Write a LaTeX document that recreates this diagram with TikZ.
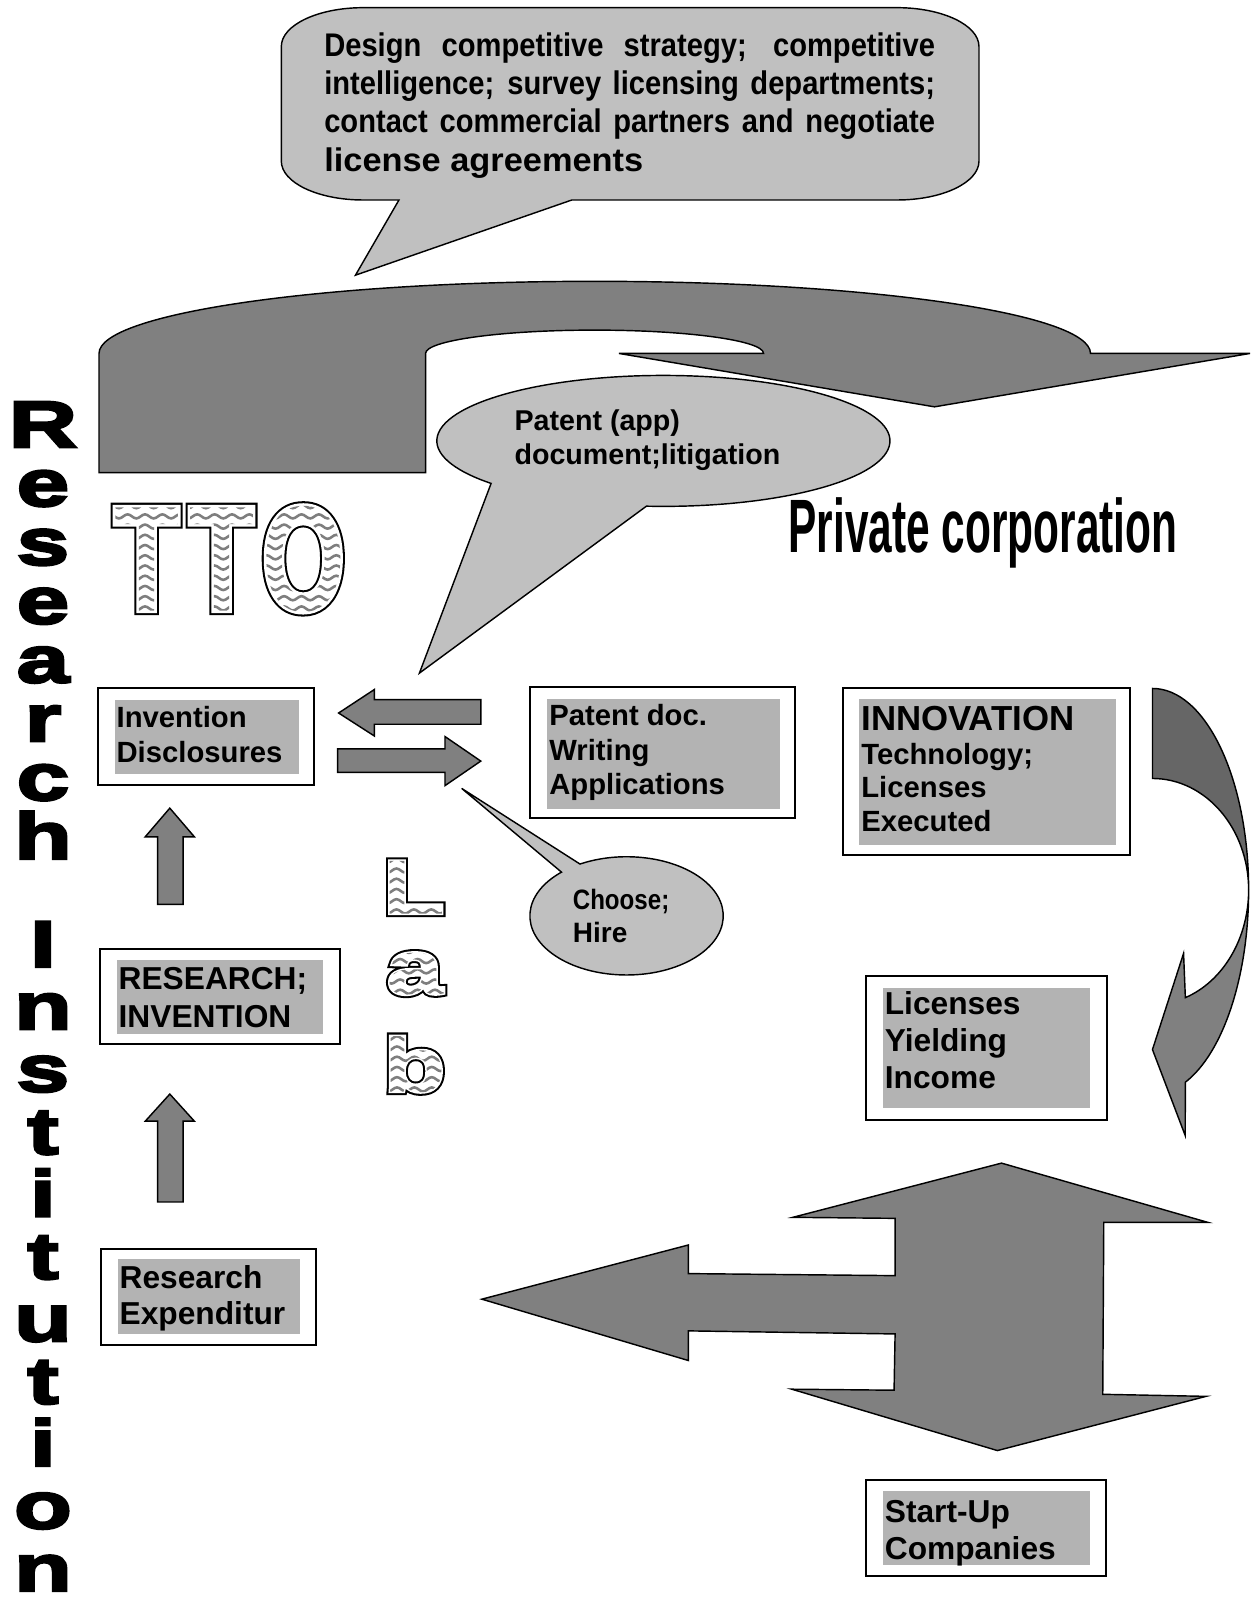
\documentclass[tikz,border=0pt]{standalone}
\usepackage{fontspec}
\setmainfont{Liberation Sans}
\newfontfamily\condfont[FakeStretch=0.89]{Liberation Sans}
\newfontfamily\widefont[FakeStretch=1.05]{Liberation Sans}
\newfontfamily\choosefont[FakeStretch=0.86]{Liberation Sans}
\newfontfamily\privfont[FakeStretch=0.56]{Liberation Sans}
\newfontfamily\ttofont[FakeStretch=0.71]{Liberation Sans}
\newfontfamily\labfont[FakeStretch=1.33]{Liberation Sans}
\newfontfamily\vertfont[FakeStretch=1.45,FakeBold=4]{Liberation Sans}
\usetikzlibrary{fit}
\definecolor{callgray}{HTML}{C0C0C0}
\definecolor{boxgray}{HTML}{B3B3B3}
\definecolor{arrgray}{HTML}{808080}
\definecolor{backgray}{HTML}{666666}
\definecolor{wavecolor}{HTML}{7E7E7E}
\newcommand\fl{\rule{0pt}{13pt}}
% wavy lines (used inside the letters): #1 periods, #2 height in pt
\newcommand\wavefill[2]{\tikz[x=1pt,y=1pt,baseline=0pt]{%
  \useasboundingbox (0,0) rectangle (1,1);
  \foreach \yy in {-4,1,...,#2}
    \draw[wavecolor,line width=1.25pt] (-4,\yy)
      \foreach \k in {0,...,#1} {sin ++(2.125,1) cos ++(2.125,-1) sin ++(2.125,-1) cos ++(2.125,1)};}}
% outlined, emboldened letters filled with wavy lines
% #1 white stroke, #2 black stroke (bp), #3 text, #4 periods, #5 height (pt)
\newcommand\wavetext[5]{%
  \rlap{\color{black}\special{pdf:literal direct 2 Tr #2 w 0 G}#3}%
  \rlap{\color{white}\special{pdf:literal direct 2 Tr #1 w 1 G}#3}%
  \special{pdf:literal direct 0 Tr q 7 Tr}%
  \rlap{#3}%
  \special{pdf:literal direct 0 Tr}%
  \rlap{\wavefill{#4}{#5}}%
  \special{pdf:literal direct Q}%
  \phantom{#3}}
\begin{document}
\begin{tikzpicture}[x=0.5pt,y=0.5pt,
  outerbox/.style={draw=black,line width=1pt,fill=white,inner sep=0pt,outer sep=0pt},
  innerbox/.style={fill=boxgray,draw=none,inner sep=0pt,outer sep=0pt},
  blockarrow/.style={draw=black,line width=0.7pt,fill=arrgray,line join=miter},
  callout/.style={draw=black,line width=0.7pt,fill=callgray},
  txt/.style={inner sep=0pt,outer sep=0pt,anchor=north west,align=left,font=\bfseries\fontsize{14.3pt}{17pt}\selectfont},
  txtbig/.style={txt,font=\bfseries\fontsize{15.5pt}{18pt}\selectfont},
  bigletter/.style={inner sep=0pt,outer sep=0pt,anchor=base west},
  labletter/.style={bigletter,font=\labfont\bfseries\fontsize{37.4pt}{38pt}\selectfont},
  vertword/.style={inner sep=0pt,outer sep=0pt,anchor=north,align=center}]
\useasboundingbox (0,0) rectangle (1227,-1568);

% ---------- big U-turn arrow ----------
\draw[blockarrow] (96.8,-462) -- (96.8,-345.5)
  arc[start angle=180,end angle=0,x radius=484.6,y radius=70.5]
  -- (1222,-345.5) -- (913.5,-397.7) -- (605,-345.5) -- (746.4,-345.5)
  arc[start angle=0,end angle=180,x radius=165.2,y radius=22.8]
  -- (416,-462) -- cycle;

% ---------- top callout ----------
\draw[callout] (559,-195.5) -- (877,-195.5)
  arc[start angle=270,end angle=360,x radius=80,y radius=38] -- (957,-45.5)
  arc[start angle=0,end angle=90,x radius=80,y radius=38] -- (355,-7.5)
  arc[start angle=90,end angle=180,x radius=80,y radius=38] -- (275,-157.5)
  arc[start angle=180,end angle=270,x radius=80,y radius=38] -- (390,-195.5)
  -- (347.5,-269) -- cycle;
\node[txt,font=\bfseries\fontsize{16pt}{18.7pt}\selectfont] (calltext) at (317,-29)
  {\fl\makebox[298.5pt][s]{\condfont Design competitive strategy; competitive}\\
   \makebox[298.5pt][s]{\condfont intelligence; survey licensing departments;}\\
   \makebox[298.5pt][s]{\condfont contact commercial partners and negotiate}\\
   {\widefont license agreements}};

% ---------- patent callout ----------
\draw[callout] ([shift={(-94.3:221.5 and 64)}]648.5,-431)
  arc[start angle=-94.3,end angle=220.5,x radius=221.5,y radius=64]
  -- (410,-658) -- cycle;
\node[txt,font=\bfseries\fontsize{14pt}{16.7pt}\selectfont] (patapp) at (503,-394.5)
  {\fl Patent (app)\\document;litigation};

% ---------- Private corporation ----------
\node[bigletter,font=\privfont\bfseries\fontsize{37pt}{40pt}\selectfont] (priv) at (771,-540) {Private corporation};

% ---------- TTO ----------
\node[bigletter,font=\ttofont\bfseries\fontsize{73.3pt}{74pt}\selectfont] (tto) at (111.5,-596.8)
  {\wavetext{2.5}{4.5}{T\kern4.85pt T\kern3.85pt O}{14}{56}};

% ---------- Lab ----------
\node[labletter] (labL) at (374.3,-893) {\wavetext{1.5}{3.5}{L}{4}{31}};
\node[labletter] (laba) at (377.9,-971.5) {\wavetext{1.5}{3.5}{a}{4}{26}};
\node[labletter] (labb) at (374.8,-1067) {\wavetext{1.5}{3.5}{b}{4}{31}};

% ---------- Research Institution ----------
\node[vertword,font=\vertfont\bfseries\fontsize{32pt}{28.75pt}\selectfont] (resword) at (42,-385)
  {\rule{0pt}{26pt}R\\e\\s\\e\\a\\r\\c\\h};
\node[vertword,font=\vertfont\bfseries\fontsize{32pt}{30.5pt}\selectfont] (instword) at (42,-893)
  {\rule{0pt}{26pt}I\\n\\s\\t\\i\\t\\u\\t\\i\\o\\n};

% ---------- boxes ----------
\node[outerbox,fit={(96,-673)(307,-767)}] (invout) {};
\node[innerbox,fit={(112,-684)(292,-757)}] (invin) {};
\node[txt] (invtext) at (114,-685) {\fl Invention\\Disclosures};

\node[outerbox,fit={(518,-671.5)(777,-800)}] (patout) {};
\node[innerbox,fit={(535,-683)(762,-791)}] (patin) {};
\node[txt] (pattext) at (537,-683) {\fl Patent doc.\\Writing\\Applications};

\node[outerbox,fit={(824,-673)(1105,-836)}] (innout) {};
\node[innerbox,fit={(840,-683.5)(1091,-826)}] (innin) {};
\node[txt,font=\bfseries\fontsize{17pt}{18pt}\selectfont] (inntitle) at (842,-688) {\fl INNOVATION};
\node[txt,font=\bfseries\fontsize{14.3pt}{16.5pt}\selectfont] (inntext) at (842,-721) {\fl Technology;\\Licenses\\Executed};

\node[outerbox,fit={(98,-928)(332,-1021)}] (resout) {};
\node[innerbox,fit={(114,-938.5)(316,-1011)}] (resin) {};
\node[txtbig,font=\bfseries\fontsize{15.5pt}{18.5pt}\selectfont] (restext) at (116,-941) {\fl RESEARCH;\\INVENTION};

\node[outerbox,fit={(99,-1221)(309,-1315)}] (expout) {};
\node[innerbox,fit={(115,-1231)(293,-1304)}] (expin) {};
\node[txtbig,font=\bfseries\fontsize{15.5pt}{17.5pt}\selectfont] (exptext) at (117,-1234) {\fl Research\\Expenditur};

\node[outerbox,fit={(847,-954)(1082,-1095)}] (licout) {};
\node[innerbox,fit={(863,-965.5)(1066,-1083.5)}] (licin) {};
\node[txtbig] (lictext) at (865,-966) {\fl Licenses\\Yielding\\Income};

\node[outerbox,fit={(847,-1447)(1081,-1541)}] (supout) {};
\node[innerbox,fit={(863,-1458)(1066,-1530)}] (supin) {};
\node[txtbig] (suptext) at (865,-1462) {\fl Start-Up\\Companies};

% ---------- small arrows ----------
\draw[blockarrow] (331,-697) -- (366,-674) -- (366,-684) -- (470,-684) -- (470,-708)
  -- (366,-708) -- (366,-719.5) -- cycle;
\draw[blockarrow] (330,-732) -- (435,-732) -- (435,-720) -- (470,-744) -- (435,-768)
  -- (435,-755) -- (330,-755) -- cycle;
\draw[blockarrow] (166,-790) -- (190,-818) -- (179,-818) -- (179,-884) -- (154,-884)
  -- (154,-818) -- (142,-818) -- cycle;
\draw[blockarrow] (166,-1069.5) -- (190,-1096) -- (179,-1096) -- (179,-1175)
  -- (154,-1175) -- (154,-1096) -- (142,-1096) -- cycle;

% ---------- choose callout ----------
\draw[callout] ([shift={(132.3:94.5 and 57.8)}]612.5,-895.3)
  arc[start angle=132.3,end angle=478.8,x radius=94.5,y radius=57.8]
  -- (451.3,-770.7) -- cycle;
\node[txt,font=\bfseries\fontsize{13.7pt}{16.3pt}\selectfont] (choose) at (560,-863)
  {\fl{\choosefont Choose;}\\Hire};

% ---------- curved arrow on the right ----------
\draw[draw=black,line width=0.7pt,fill=backgray] (1126.6,-673)
  arc[start angle=90,end angle=0,x radius=94,y radius=197]
  arc[start angle=0,end angle=90,x radius=94,y radius=109] -- cycle;
\draw[blockarrow] (1220.6,-870)
  arc[start angle=0,end angle=-70,x radius=94,y radius=112]
  -- (1157,-932) -- (1126.6,-1026) -- (1158.6,-1110) -- (1158.75,-1057.9)
  arc[start angle=-70,end angle=0,x radius=94,y radius=200] -- cycle;

% ---------- big double arrow ----------
\draw[blockarrow] (471,-1270) -- (673,-1217) -- (673,-1245) -- (875,-1247) -- (875,-1191)
  -- (775,-1190) -- (979,-1137) -- (1181,-1195) -- (1079,-1195) -- (1078,-1363)
  -- (1179,-1365) -- (975,-1418) -- (774,-1358) -- (874,-1359) -- (875,-1304)
  -- (673,-1301) -- (673,-1330) -- cycle;
\end{tikzpicture}
\end{document}
